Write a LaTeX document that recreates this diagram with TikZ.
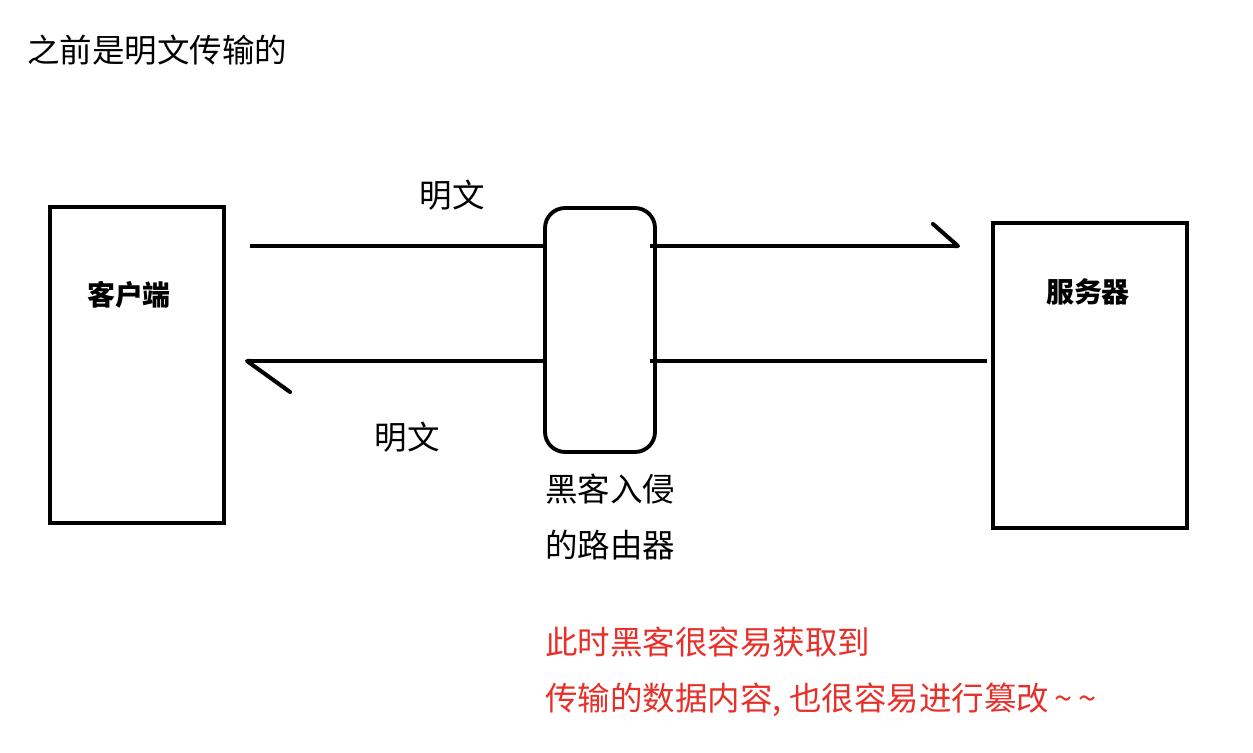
\documentclass[tikz,border=0pt]{standalone}
\usepackage{fontspec}
\setmainfont{Noto Sans CJK SC}
\usetikzlibrary{positioning,arrows.meta}
\definecolor{alert}{RGB}{232,48,42}

\begin{document}
\begin{tikzpicture}[x=0.02cm, y=-0.02cm,
		box/.style={draw, line width=2.2pt, inner sep=0pt},
		wire/.style={line width=2.3pt},
		txt/.style={font=\fontsize{18.5}{31.7}\selectfont, inner sep=0pt, align=left},
		tag/.style={font=\fontsize{15.9}{19}\selectfont\bfseries, inner sep=0pt}]
		\useasboundingbox (0,0) rectangle (1253,753);
		\node[txt, anchor=west] (title) at (27,50) {之前是明文传输的};
		% the two ends and the router in between
		\node[box, minimum width=3.48cm, minimum height=6.32cm] (client) at (137,365) {};
		\node[box, minimum width=3.88cm, minimum height=6.1cm] (server) at (1090,375.5) {};
		\node[tag] (clientlbl) at (129,295) {客户端};
		\node[tag] (serverlbl) at (1088,292) {服务器};
		\node[box, rounded corners=0.4cm, minimum width=2.2cm, minimum height=4.88cm] (router) at (600,330) {};
		\coordinate (cOut) at (250,246);
		\coordinate (sIn) at (960,246);
		\coordinate (sOut) at (987,361);
		\coordinate (cIn) at (245,361);
		\draw[wire] (cOut) -- (router.west|-cOut);
		\draw[wire, -{Straight Barb[left, round, length=0.5cm, width=0.88cm]}] ([xshift=-0.14cm]router.east|-sIn) -- (sIn);
		\draw[wire] (sOut) -- ([xshift=-0.14cm]router.east|-sOut);
		\draw[wire, -{Straight Barb[left, round, length=0.86cm, width=1.24cm]}] (router.west|-cIn) -- (cIn);
		\node[txt] (plainup) at (452,195) {明文};
		\node[txt] (plaindown) at (407,437) {明文};
		\node[txt, anchor=north west] (routerlbl) at (545,474) {黑客入侵\\的路由器};
		\node[txt, anchor=north west, text=alert] (note) at (545,627)
			{此时黑客很容易获取到\\传输的数据内容, 也很容易进行篡改\,\textasciitilde\,\textasciitilde};
	\end{tikzpicture}
\end{document}
